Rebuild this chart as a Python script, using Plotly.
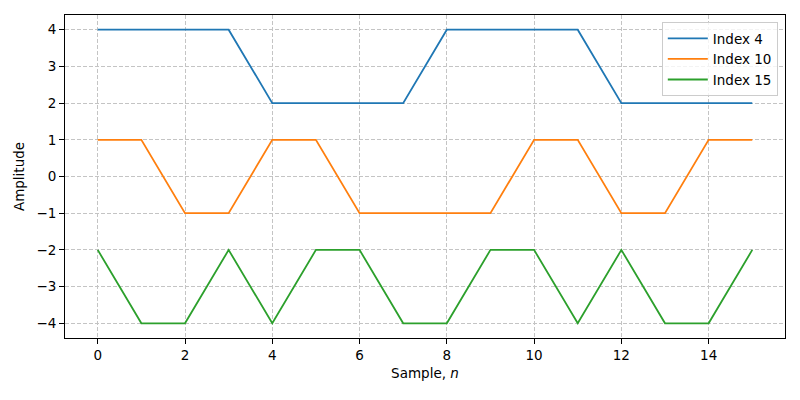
import plotly.graph_objects as go

n = list(range(16))
index4 = [4, 4, 4, 4, 2, 2, 2, 2, 4, 4, 4, 4, 2, 2, 2, 2]
index10 = [1, 1, -1, -1, 1, 1, -1, -1, -1, -1, 1, 1, -1, -1, 1, 1]
index15 = [-2, -4, -4, -2, -4, -2, -2, -4, -4, -2, -2, -4, -2, -4, -4, -2]
names = ["Index 4", "Index 10", "Index 15"]
colors = ["#1f77b4", "#ff7f0e", "#2ca02c"]

fig = go.Figure()
for name, ys, c in zip(names, [index4, index10, index15], colors):
    fig.add_trace(go.Scatter(x=n, y=ys, mode="lines", name=name,
                             line=dict(color=c, width=1.8)))

axis_common = dict(showline=True, linecolor="black", linewidth=1, mirror=True,
                   ticks="outside", ticklen=5, tickcolor="black",
                   showgrid=True, gridcolor="#c4c4c4", griddash="4px,2px", gridwidth=0.8,
                   zeroline=False, automargin=False,
                   tickfont=dict(size=13.5, color="black"))

fig.update_layout(
    width=800, height=400,
    margin=dict(l=65, r=15, t=15, b=62),
    paper_bgcolor="white", plot_bgcolor="white",
    font=dict(family="DejaVu Sans", size=13.5, color="black"),
    xaxis=dict(range=[-0.75, 15.75], tickvals=[0, 2, 4, 6, 8, 10, 12, 14],
               title=dict(text="Sample, <i>n</i>", standoff=6, font=dict(size=13.5)),
               **axis_common),
    yaxis=dict(range=[-4.4, 4.4], tickvals=[-4, -3, -2, -1, 0, 1, 2, 3, 4],
               ticktext=["−4", "−3", "−2", "−1", "0", "1", "2", "3", "4"],
               title=dict(text="Amplitude", standoff=8, font=dict(size=13.5)),
               **axis_common),
    legend=dict(x=0.99, y=0.978, xanchor="right", yanchor="top",
                bordercolor="#cccccc", borderwidth=1, bgcolor="rgba(255,255,255,0.8)",
                font=dict(size=13.5), itemwidth=40),
    showlegend=True,
)

fig.write_html("out.html", config={"displayModeBar": False},
               post_script="document.body.style.margin='0';document.body.style.padding='0';")
